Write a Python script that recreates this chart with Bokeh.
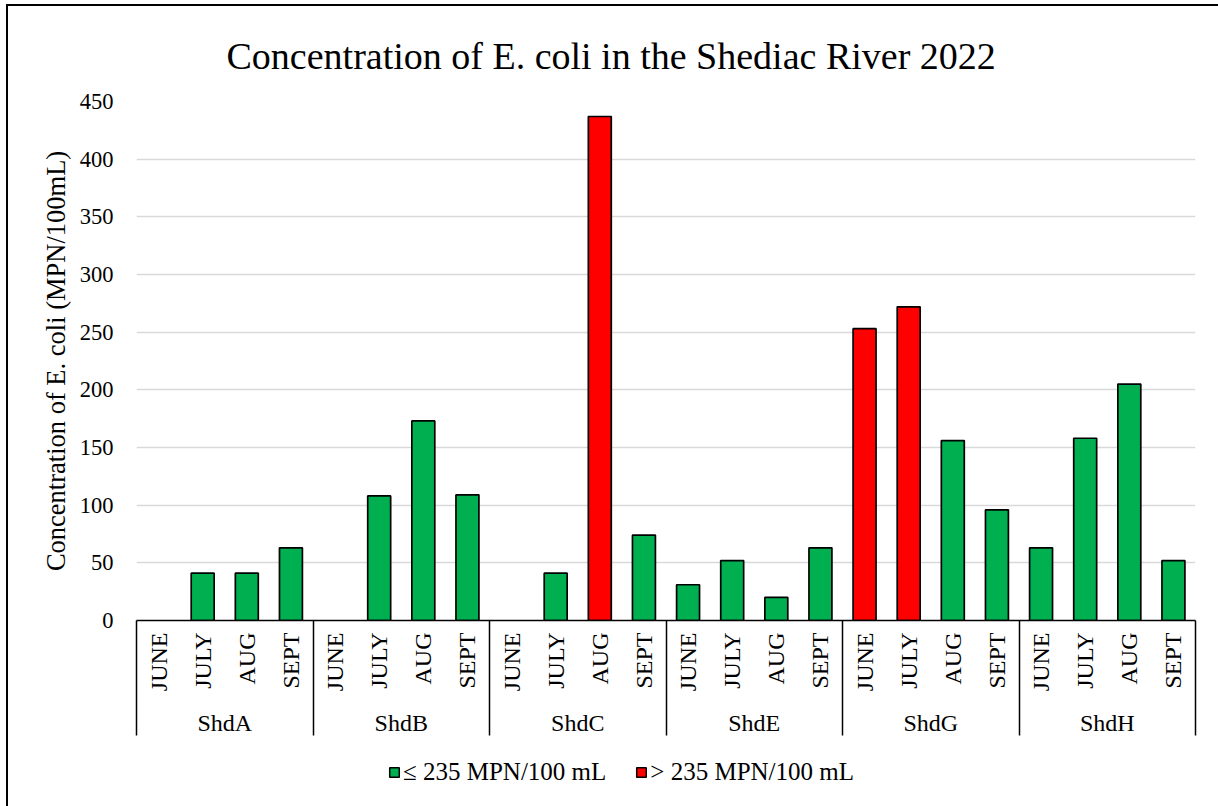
import numpy as np
from bokeh.plotting import figure
from bokeh.layouts import column
from bokeh.models import (Range1d, LinearAxis, FixedTicker, ColumnDataSource,
                          Legend, LegendItem)
from bokeh.embed import file_html
from bokeh.resources import INLINE

# E. coli concentration (MPN/100mL) per sampling site, June..September 2022
sites = ["ShdA", "ShdB", "ShdC", "ShdE", "ShdG", "ShdH"]
months = ["JUNE", "JULY", "AUG", "SEPT"]
shd_a = [None, 41, 41, 63]
shd_b = [None, 108, 173, 109]
shd_c = [None, 41, 437, 74]
shd_e = [31, 52, 20, 63]
shd_g = [253, 272, 156, 96]
shd_h = [63, 158, 205, 52]
threshold = 235
y_ticks = [0, 50, 100, 150, 200, 250, 300, 350, 400, 450]

series = [shd_a, shd_b, shd_c, shd_e, shd_g, shd_h]

FONT = "Liberation Serif"
GREEN, RED = "#00B050", "#FF0000"
# chart panel (inside a page margin with a border on its left and top edges)
W, H = 1210, 744
LEFT, RIGHT, TOP, BOTTOM = 128, 23, 95, 130
LEG_H = 56
n_slots = len(sites) * len(months)
y_max = 450

low = dict(x=[], top=[])
high = dict(x=[], top=[])
for g, vals in enumerate(series):
    for m, v in enumerate(vals):
        if v is None:
            continue
        pos = g * len(months) + m + 0.5
        tgt = high if v > threshold else low
        tgt["x"].append(pos)
        tgt["top"].append(v)

p = figure(width=W, height=H, x_range=Range1d(0, n_slots), y_range=Range1d(0, y_max),
           output_backend="svg", toolbar_location=None, x_axis_location=None,
           min_border_left=LEFT, min_border_right=RIGHT,
           min_border_top=TOP, min_border_bottom=BOTTOM,
           title="Concentration of E. coli in the Shediac River 2022")
p.outline_line_color = None
p.background_fill_color = "white"
p.border_fill_color = "white"

p.title.text_font = FONT
p.title.text_font_size = "38px"
p.title.text_font_style = "normal"
p.title.text_color = "black"
p.title.align = "left"
p.title.offset = 90
p.title.vertical_align = "middle"
p.title.standoff = 48

# value axis
p.yaxis.ticker = FixedTicker(ticks=y_ticks)
p.yaxis.axis_line_color = None
p.yaxis.major_tick_line_color = None
p.yaxis.minor_tick_line_color = None
p.yaxis.major_label_standoff = 17
p.yaxis.major_label_text_font = FONT
p.yaxis.major_label_text_font_size = "22.5px"
p.yaxis.major_label_text_color = "black"
p.yaxis.axis_label = "Concentration of E. coli (MPN/100mL)"
p.yaxis.axis_label_text_font = FONT
p.yaxis.axis_label_text_font_size = "26.5px"
p.yaxis.axis_label_text_font_style = "normal"
p.yaxis.axis_label_text_color = "black"
p.yaxis.axis_label_standoff = 6
p.ygrid.grid_line_color = "#d9d9d9"
p.ygrid.grid_line_width = 1.5
p.xgrid.visible = False

src_low = ColumnDataSource(low)
src_high = ColumnDataSource(high)
p.vbar(x="x", top="top", bottom=0, width=0.52, source=src_low,
       fill_color=GREEN, line_color="black", line_width=1.7)
p.vbar(x="x", top="top", bottom=0, width=0.52, source=src_high,
       fill_color=RED, line_color="black", line_width=1.7)

# month level of the category axis; the long minor ticks separate the sites
SEP_LEN = 115
centers = [i + 0.5 for i in range(n_slots)]
month_axis = LinearAxis(
    ticker=FixedTicker(ticks=centers, minor_ticks=list(range(0, n_slots + 1, len(months)))),
    major_label_overrides={c: months[i % len(months)] for i, c in enumerate(centers)},
    major_label_orientation=np.pi / 2,
    major_label_standoff=12 - SEP_LEN,
    major_label_text_font=FONT,
    major_label_text_font_size="24px",
    major_label_text_color="black",
    major_tick_line_color=None,
    minor_tick_in=0, minor_tick_out=SEP_LEN,
    minor_tick_line_color="black", minor_tick_line_width=1.5,
    axis_line_color="black", axis_line_width=1.5,
)
p.add_layout(month_axis, "below")

# site level of the category axis
group_ticks = [g * len(months) + len(months) // 2 for g in range(len(sites))]
site_axis = LinearAxis(
    ticker=FixedTicker(ticks=group_ticks, minor_ticks=[]),
    major_label_overrides={t: s for t, s in zip(group_ticks, sites)},
    major_label_standoff=9,
    major_label_text_font=FONT,
    major_label_text_font_size="24px",
    major_label_text_color="black",
    major_tick_line_color=None,
    minor_tick_line_color=None,
    axis_line_color=None,
)
p.add_layout(site_axis, "below")

# legend strip under the chart; its key renderers carry no drawable points
nan = float("nan")
leg = figure(width=W, height=LEG_H, x_range=Range1d(0, 1), y_range=Range1d(0, 1),
             output_backend="svg", toolbar_location=None,
             x_axis_location=None, y_axis_location=None,
             min_border=0, min_border_left=0, min_border_right=0,
             min_border_top=0, min_border_bottom=0)
leg.outline_line_color = None
leg.grid.visible = False
leg.border_fill_color = "white"
k_low = leg.vbar(x=[nan], top=[nan], bottom=nan, width=0.5,
                 fill_color=GREEN, line_color="black", line_width=1.5)
k_high = leg.vbar(x=[nan], top=[nan], bottom=nan, width=0.5,
                  fill_color=RED, line_color="black", line_width=1.5)
legend = Legend(
    items=[LegendItem(label="\u2264 235 MPN/100 mL", renderers=[k_low]),
           LegendItem(label="> 235 MPN/100 mL", renderers=[k_high])],
    orientation="horizontal", location=(252, 20),
    glyph_width=12, glyph_height=12, label_standoff=3, spacing=29,
    padding=0, margin=0, border_line_color=None, background_fill_alpha=0,
    label_text_font=FONT, label_text_font_size="25px", label_text_color="black",
)
leg.add_layout(legend)

page = column(p, leg, spacing=0,
              styles={"margin-left": "6px", "margin-top": "4px",
                      "border-left": "2px solid black", "border-top": "2px solid black"})

open("out.html", "w").write(file_html(page, INLINE))
